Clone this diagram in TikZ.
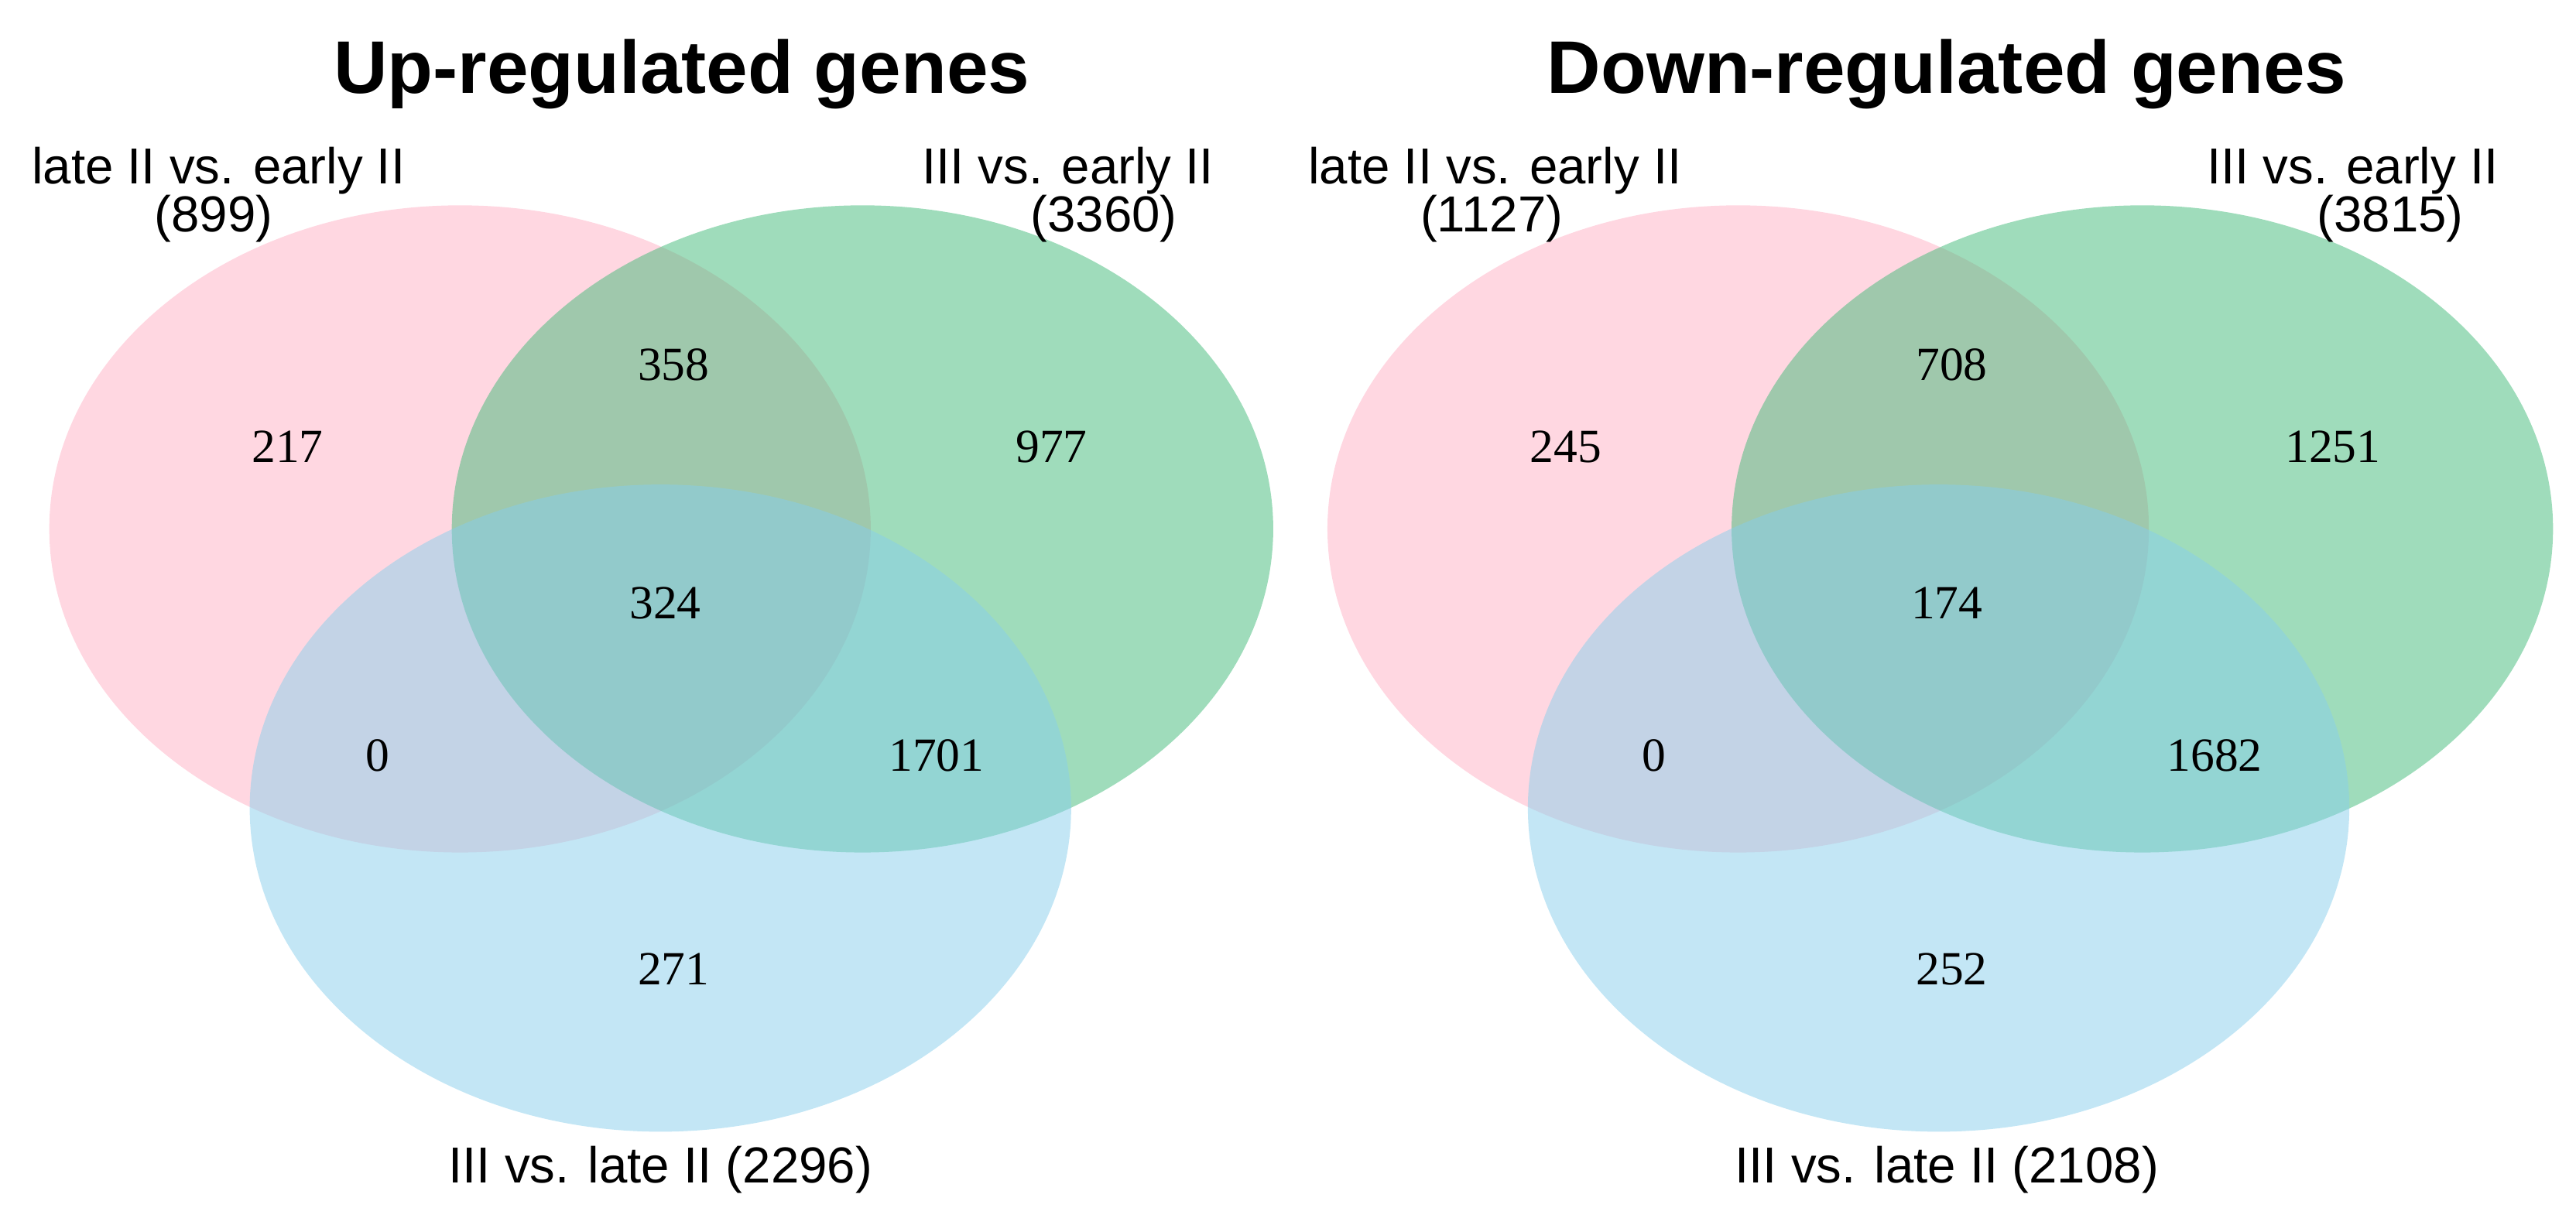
\documentclass[tikz,border=0pt]{standalone}
\usepackage{fontspec}
\setmainfont{Liberation Serif}
\setsansfont{Liberation Sans}
\begin{document}
\begin{tikzpicture}[x=0.021224cm,y=-0.021224cm,
  pinkset/.style={fill={rgb,255:red,255;green,176;blue,196},fill opacity=0.5,draw=none},
  greenset/.style={fill={rgb,255:red,64;green,186;blue,120},fill opacity=0.5,draw=none},
  blueset/.style={fill={rgb,255:red,135;green,206;blue,235},fill opacity=0.5,draw=none},
  num/.style={font=\fontsize{17.5pt}{19pt}\selectfont},
  lab/.style={font=\sffamily\fontsize{18.6pt}{21pt}\selectfont,align=center,inner sep=1pt},
  ttl/.style={font=\sffamily\bfseries\fontsize{27.4pt}{32pt}\selectfont}]
\useasboundingbox (0,0) rectangle (1568,735);
% left venn
\fill[pinkset] (280,322) ellipse [x radius=250,y radius=197];
\fill[greenset] (525,322) ellipse [x radius=250,y radius=197];
\fill[blueset] (402,492) ellipse [x radius=250,y radius=197];
% right venn
\fill[pinkset] (1058,322) ellipse [x radius=250,y radius=197];
\fill[greenset] (1304,322) ellipse [x radius=250,y radius=197];
\fill[blueset] (1180,492) ellipse [x radius=250,y radius=197];
\node[ttl] (t1) at (415,45) {Up-regulated genes};
\node[ttl] (t2) at (1185,45) {Down-regulated genes};
\node[lab] (a1) at (133,104) {late II vs. early II};
\node[lab] (a2) at (130,133) {(899)};
\node[lab] (b1) at (650,104) {III vs. early II};
\node[lab] (b2) at (672,133) {(3360)};
\node[lab] (c1) at (402,712) {III vs. late II (2296)};
\node[lab] (d1) at (910,104) {late II vs. early II};
\node[lab] (d2) at (908,133) {(1127)};
\node[lab] (e1) at (1432,104) {III vs. early II};
\node[lab] (e2) at (1455,133) {(3815)};
\node[lab] (f1) at (1185,712) {III vs. late II (2108)};
\node[num] (n1) at (175,272) {217};
\node[num] (n2) at (410,222) {358};
\node[num] (n3) at (640,272) {977};
\node[num] (n4) at (405,367) {324};
\node[num] (n5) at (230,460) {0};
\node[num] (n6) at (570,460) {1701};
\node[num] (n7) at (410,590) {271};
\node[num] (m1) at (953,272) {245};
\node[num] (m2) at (1188,222) {708};
\node[num] (m3) at (1420,272) {1251};
\node[num] (m4) at (1185,367) {174};
\node[num] (m5) at (1007,460) {0};
\node[num] (m6) at (1348,460) {1682};
\node[num] (m7) at (1188,590) {252};
\end{tikzpicture}
\end{document}
